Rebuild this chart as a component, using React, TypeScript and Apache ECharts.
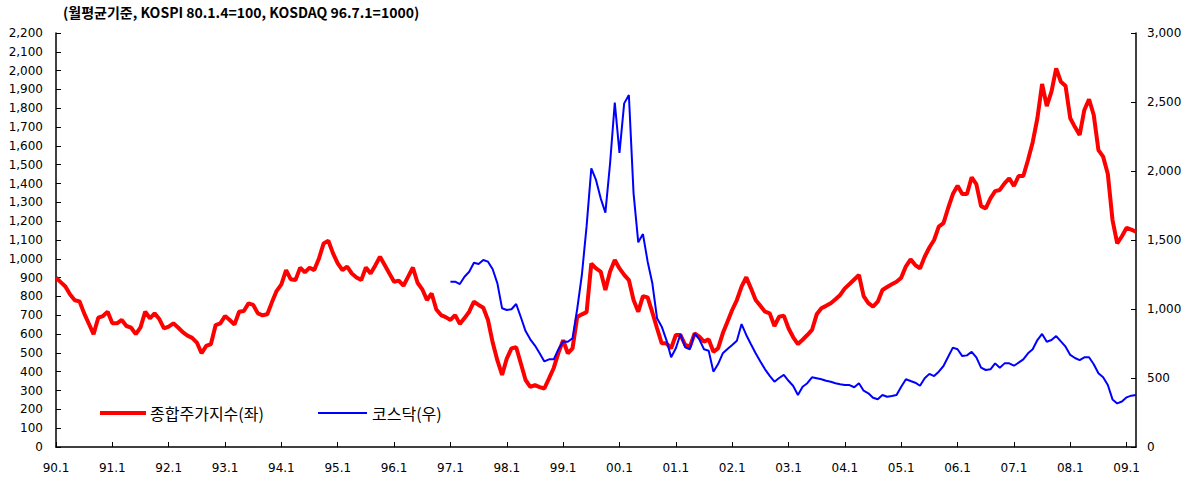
import React, { useEffect, useRef } from "react";
import * as echarts from "echarts";

const START_YEAR = 1990;
const MONTH_COUNT = 231; // 90.1 ~ 09.3
const KOSDAQ_START_INDEX = 84; // 97.1

const kospi1990 = [900, 876, 853, 810, 780, 774, 710, 655, 600, 687, 696, 719];
const kospi1991 = [657, 657, 675, 643, 634, 600, 636, 719, 684, 710, 680, 630];
const kospi1992 = [640, 657, 635, 610, 592, 580, 555, 498, 537, 547, 648, 657];
const kospi1993 = [696, 675, 650, 719, 723, 763, 755, 710, 700, 705, 770, 830];
const kospi1994 = [864, 940, 891, 887, 953, 928, 953, 940, 1002, 1082, 1096, 1029];
const kospi1995 = [976, 940, 958, 922, 901, 887, 954, 922, 965, 1011, 967, 922];
const kospi1996 = [878, 884, 857, 905, 954, 873, 838, 781, 816, 731, 701, 690];
const kospi1997 = [675, 701, 654, 685, 719, 772, 755, 740, 675, 555, 460, 383];
const kospi1998 = [470, 524, 530, 444, 356, 320, 329, 318, 311, 365, 420, 500];
const kospi1999 = [567, 498, 524, 691, 705, 717, 975, 949, 932, 834, 932, 994];
const kospi2000 = [949, 915, 887, 781, 719, 802, 795, 715, 631, 551, 551, 524];
const kospi2001 = [595, 595, 542, 533, 604, 586, 560, 572, 506, 524, 604, 666];
const kospi2002 = [728, 781, 852, 902, 843, 781, 750, 719, 710, 643, 692, 698];
const kospi2003 = [631, 583, 547, 570, 595, 622, 705, 737, 750, 764, 785, 808];
const kospi2004 = [843, 866, 890, 914, 802, 765, 746, 772, 834, 850, 865, 878];
const kospi2005 = [900, 960, 997, 967, 949, 1011, 1060, 1100, 1171, 1190, 1270, 1344];
const kospi2006 = [1389, 1344, 1344, 1433, 1397, 1280, 1268, 1321, 1360, 1366, 1401, 1428];
const kospi2007 = [1387, 1440, 1440, 1525, 1620, 1747, 1929, 1812, 1888, 2012, 1941, 1918];
const kospi2008 = [1747, 1700, 1658, 1791, 1848, 1764, 1578, 1543, 1451, 1206, 1082, 1120];
const kospi2009 = [1165, 1155, 1144];

const kosdaq1997 = [1198, 1198, 1181, 1234, 1270, 1335, 1326, 1355, 1343, 1288, 1186, 1005];
const kosdaq1998 = [993, 998, 1036, 940, 840, 780, 735, 680, 620, 635, 635, 708];
const kosdaq1999 = [765, 763, 788, 1000, 1250, 1600, 2019, 1935, 1802, 1698, 2056, 2495];
const kosdaq2000 = [2132, 2490, 2551, 1838, 1483, 1543, 1343, 1186, 933, 872, 775, 650];
const kosdaq2001 = [715, 819, 722, 708, 824, 780, 708, 698, 546, 601, 679, 710];
const kosdaq2002 = [739, 770, 891, 812, 745, 679, 620, 563, 515, 473, 500, 522];
const kosdaq2003 = [480, 442, 377, 437, 462, 505, 498, 491, 480, 473, 462, 455];
const kosdaq2004 = [449, 449, 433, 462, 408, 389, 357, 346, 377, 364, 370, 377];
const kosdaq2005 = [437, 491, 478, 466, 444, 498, 530, 514, 546, 587, 654, 720];
const kosdaq2006 = [708, 659, 664, 690, 650, 575, 558, 563, 606, 575, 606, 606];
const kosdaq2007 = [589, 611, 635, 679, 708, 775, 819, 763, 775, 804, 765, 727];
const kosdaq2008 = [667, 645, 630, 650, 650, 600, 534, 505, 449, 345, 316, 330];
const kosdaq2009 = [360, 372, 377];

const TITLE = "(월평균기준, KOSPI 80.1.4=100, KOSDAQ 96.7.1=1000)";
const LEGEND_KOSPI = "종합주가지수(좌)";
const LEGEND_KOSDAQ = "코스닥(우)";

function buildCategories(): string[] {
  const out: string[] = [];
  for (let i = 0; i < MONTH_COUNT; i++) {
    const y = START_YEAR + Math.floor(i / 12);
    const m = (i % 12) + 1;
    out.push(String(y % 100).padStart(2, "0") + "." + m);
  }
  return out;
}

export default function App() {
  const ref = useRef<HTMLDivElement>(null);

  useEffect(() => {
    if (!ref.current) return;
    const chart = echarts.init(ref.current, null, { renderer: "svg" });
    const categories = buildCategories();
    const kospi = [
      ...kospi1990, ...kospi1991, ...kospi1992, ...kospi1993, ...kospi1994,
      ...kospi1995, ...kospi1996, ...kospi1997, ...kospi1998, ...kospi1999,
      ...kospi2000, ...kospi2001, ...kospi2002, ...kospi2003, ...kospi2004,
      ...kospi2005, ...kospi2006, ...kospi2007, ...kospi2008, ...kospi2009,
    ];
    const kosdaqVals = [
      ...kosdaq1997, ...kosdaq1998, ...kosdaq1999, ...kosdaq2000, ...kosdaq2001,
      ...kosdaq2002, ...kosdaq2003, ...kosdaq2004, ...kosdaq2005, ...kosdaq2006,
      ...kosdaq2007, ...kosdaq2008, ...kosdaq2009,
    ];
    const kosdaq: (number | null)[] = [];
    for (let i = 0; i < KOSDAQ_START_INDEX; i++) kosdaq.push(null);
    kosdaq.push(...kosdaqVals);

    const numFont = "DejaVu Sans";
    const krFont = "Noto Sans CJK KR";
    const fmt = (v: number) => v.toLocaleString("en-US");

    chart.setOption({
      animation: false,
      backgroundColor: "#ffffff",
      grid: { left: 56, right: 57, top: 33, bottom: 35, containLabel: false },
      xAxis: {
        type: "category",
        data: categories,
        boundaryGap: false,
        axisLine: { show: true, lineStyle: { color: "#000", width: 1.5 } },
        axisTick: {
          show: true,
          inside: true,
          length: 5,
          interval: (idx: number) => idx % 12 === 0,
          lineStyle: { color: "#000" },
        },
        axisLabel: {
          interval: (idx: number) => idx % 12 === 0,
          color: "#000",
          fontFamily: numFont,
          fontSize: 12,
          margin: 15,
        },
        splitLine: { show: false },
      },
      yAxis: [
        {
          type: "value",
          min: 0,
          max: 2200,
          interval: 100,
          axisLine: { show: true, lineStyle: { color: "#000", width: 1.5 } },
          axisTick: { show: true, inside: true, length: 5, lineStyle: { color: "#000" } },
          axisLabel: { color: "#000", fontFamily: numFont, fontSize: 12, margin: 13, formatter: fmt },
          splitLine: { show: false },
        },
        {
          type: "value",
          min: 0,
          max: 3000,
          interval: 500,
          position: "right",
          axisLine: { show: true, lineStyle: { color: "#000", width: 1.5 } },
          axisTick: { show: true, inside: true, length: 5, lineStyle: { color: "#000" } },
          axisLabel: { color: "#000", fontFamily: numFont, fontSize: 12, margin: 11, formatter: fmt },
          splitLine: { show: false },
        },
      ],
      series: [
        {
          name: LEGEND_KOSPI,
          type: "line",
          data: kospi,
          yAxisIndex: 0,
          showSymbol: false,
          lineStyle: { color: "#ff0000", width: 4 },
          itemStyle: { color: "#ff0000" },
          z: 2,
        },
        {
          name: LEGEND_KOSDAQ,
          type: "line",
          data: kosdaq,
          yAxisIndex: 1,
          showSymbol: false,
          connectNulls: false,
          lineStyle: { color: "#0000ff", width: 2 },
          itemStyle: { color: "#0000ff" },
          z: 3,
        },
      ],
      graphic: [
        {
          type: "text",
          left: 63,
          top: 5,
          style: { text: TITLE, fontFamily: krFont, fontSize: 14, fill: "#000", fontWeight: "bold" },
        },
        {
          type: "line",
          shape: { x1: 100, y1: 413, x2: 146, y2: 413 },
          style: { stroke: "#ff0000", lineWidth: 4 },
        },
        {
          type: "text",
          x: 150,
          y: 413,
          style: { text: LEGEND_KOSPI, fontFamily: krFont, fontSize: 16, fill: "#000", verticalAlign: "middle" },
        },
        {
          type: "line",
          shape: { x1: 318, y1: 413, x2: 367, y2: 413 },
          style: { stroke: "#0000ff", lineWidth: 2 },
        },
        {
          type: "text",
          x: 372,
          y: 413,
          style: { text: LEGEND_KOSDAQ, fontFamily: krFont, fontSize: 16, fill: "#000", verticalAlign: "middle" },
        },
      ],
    });
    return () => chart.dispose();
  }, []);

  return <div ref={ref} style={{ width: 1193, height: 482, position: "absolute", left: 0, top: 0 }} />;
}
